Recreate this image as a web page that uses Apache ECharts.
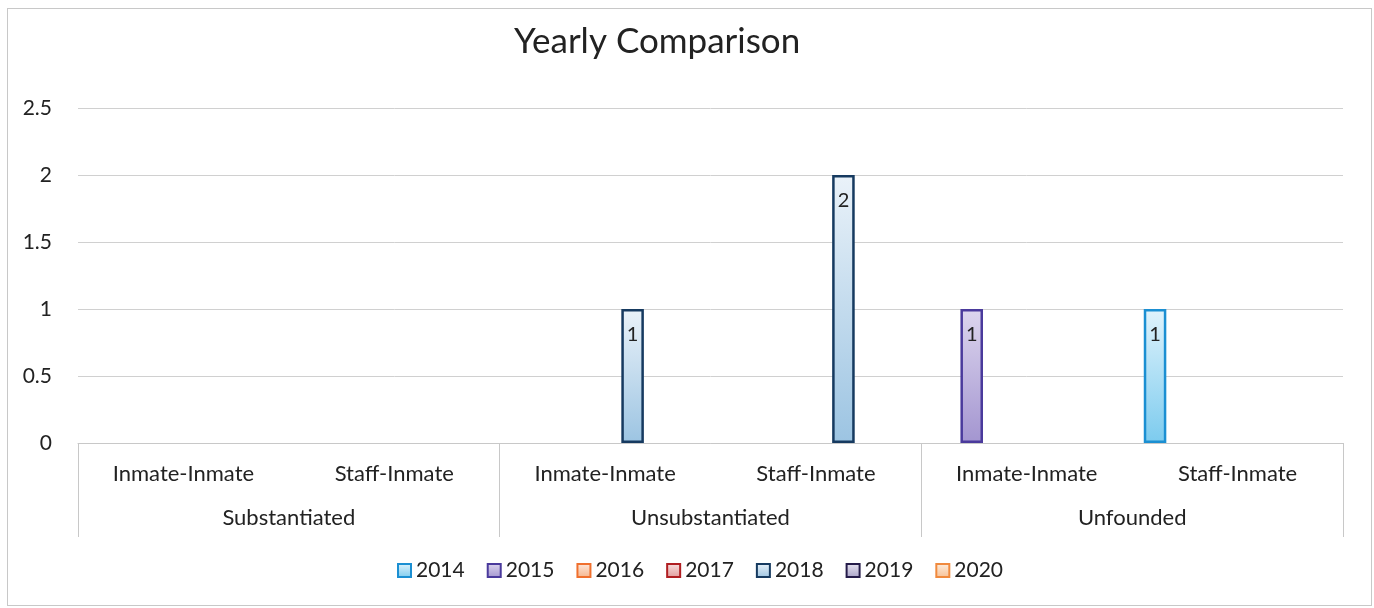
<!DOCTYPE html>
<html>
<head>
<meta charset="utf-8">
<script src="https://cdn.jsdelivr.net/npm/echarts@6/dist/echarts.min.js"></script>
<style>
  html, body { margin: 0; padding: 0; background: #fff; }
  #frame { position: absolute; left: 7px; top: 8px; width: 1363px; height: 596px; border: 1px solid #c8c8c8; }
  #chart { position: absolute; left: 0; top: 0; width: 1374px; height: 608px; }
</style>
</head>
<body>
<div id="frame"></div>
<div id="chart"></div>
<script>
const subCategories = ['Inmate-Inmate', 'Staff-Inmate', 'Inmate-Inmate', 'Staff-Inmate', 'Inmate-Inmate', 'Staff-Inmate'];
const groups = ['Substantiated', 'Unsubstantiated', 'Unfounded'];
const years = ['2014', '2015', '2016', '2017', '2018', '2019', '2020'];

const y2014 = [0, 0, 0, 0, 0, 1];
const y2015 = [0, 0, 0, 0, 1, 0];
const y2016 = [0, 0, 0, 0, 0, 0];
const y2017 = [0, 0, 0, 0, 0, 0];
const y2018 = [0, 0, 1, 2, 0, 0];
const y2019 = [0, 0, 0, 0, 0, 0];
const y2020 = [0, 0, 0, 0, 0, 0];
const yTicks = [0, 0.5, 1, 1.5, 2, 2.5];

const values = [y2014, y2015, y2016, y2017, y2018, y2019, y2020];

// border colour, top fill, bottom fill
const styles = [
  ['#1b8fd2', '#e0f3fc', '#7ccbee'],
  ['#4a3a9c', '#ddd6ee', '#a395d0'],
  ['#f0702e', '#fde9dc', '#f6b48c'],
  ['#b01e22', '#f7e1e1', '#e29a9a'],
  ['#163a60', '#eaf2f9', '#9cc4e2'],
  ['#251c4a', '#e9e6f1', '#a8a1c8'],
  ['#f08a3e', '#fdeede', '#f7c095']
];

const chart = echarts.init(document.getElementById('chart'));

const series = years.map((name, i) => ({
  name: name,
  type: 'bar',
  barGap: '22%',
  barCategoryGap: '11%',
  data: values[i].map(v => (v === 0 ? '-' : v)),
  itemStyle: {
    borderColor: styles[i][0],
    borderWidth: 2.5,
    color: new echarts.graphic.LinearGradient(0, 0, 0, 1, [
      { offset: 0, color: styles[i][1] },
      { offset: 1, color: styles[i][2] }
    ])
  },
  label: {
    show: true,
    position: 'insideTop',
    distance: 16,
    color: '#222',
    fontSize: 20,
    fontFamily: 'Lato'
  }
}));

chart.setOption({
  animation: false,
  title: {
    text: 'Yearly Comparison',
    left: 509,
    top: 19,
    textStyle: { fontFamily: 'Lato', fontSize: 35, fontWeight: 'normal', color: '#222' }
  },
  legend: {
    data: years,
    bottom: 22,
    left: 392,
    icon: 'rect',
    itemWidth: 13,
    itemHeight: 13,
    itemGap: 22,
    textStyle: { fontFamily: 'Lato', fontSize: 21, color: '#222', padding: [0, 0, 0, 0] }
  },
  grid: { left: 78, right: 31, top: 108, bottom: 165 },
  xAxis: [
    {
      type: 'category',
      data: subCategories,
      axisLine: { lineStyle: { color: '#c8c8c8', width: 1 } },
      axisTick: { show: false },
      axisLabel: { color: '#222', fontFamily: 'Lato', fontSize: 22, margin: 20 }
    },
    {
      type: 'category',
      data: groups,
      position: 'bottom',
      axisLine: { show: false },
      axisTick: { show: true, length: 94, lineStyle: { color: '#c8c8c8' } },
      axisLabel: { color: '#222', fontFamily: 'Lato', fontSize: 22, margin: 64 }
    }
  ],
  yAxis: {
    type: 'value',
    min: yTicks[0],
    max: yTicks[yTicks.length - 1],
    interval: 0.5,
    axisLine: { show: false },
    axisTick: { show: false },
    axisLabel: { color: '#222', fontFamily: 'Lato', fontSize: 21, margin: 26 },
    splitLine: { lineStyle: { color: '#d0d0d0', width: 1 } }
  },
  series: series
});
</script>
</body>
</html>
